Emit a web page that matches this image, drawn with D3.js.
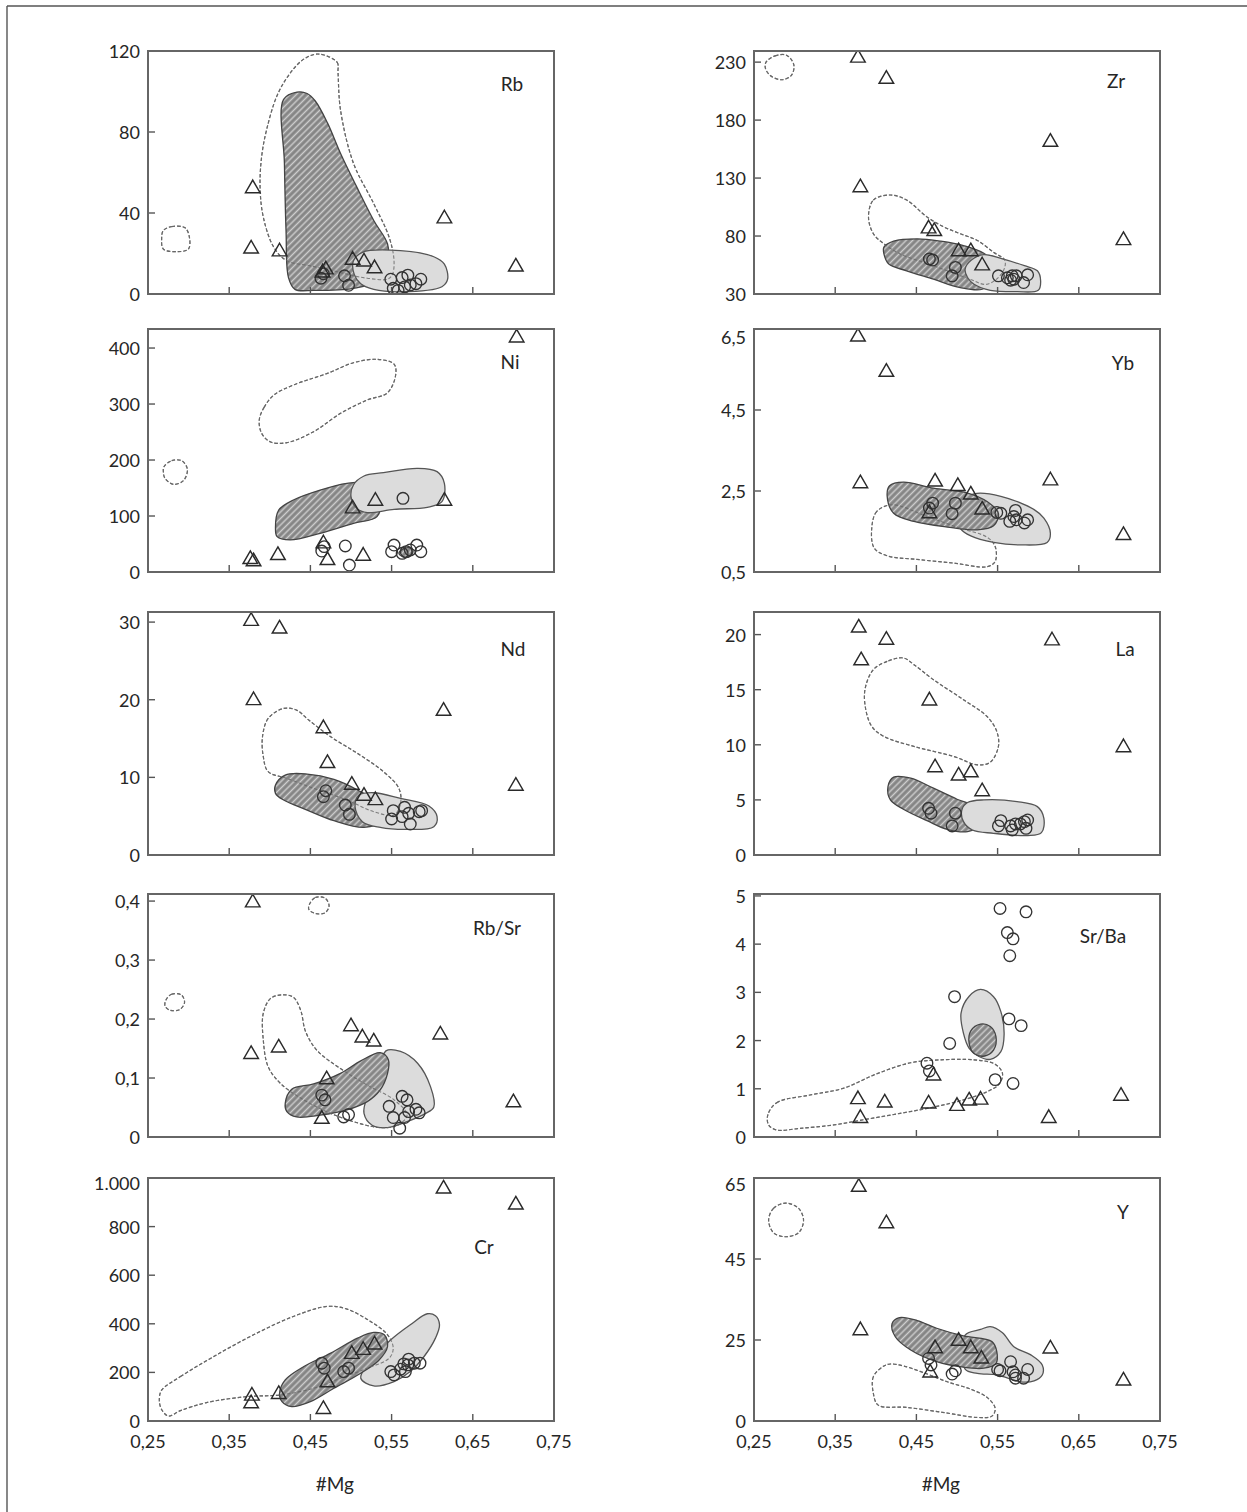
<!DOCTYPE html>
<html><head><meta charset="utf-8">
<script src="https://cdn.jsdelivr.net/npm/d3@7"></script>
<style>
body{margin:0;background:#fff}
svg{display:block}
text{font-family:Lato,'Open Sans',sans-serif;fill:#262626}
</style>
</head><body>
<svg id="chart" width="1247" height="1512"></svg>
<script>
// ---------- shared x axis ----------
const xTickValues = [0.25,0.35,0.45,0.55,0.65,0.75];
const xTickLabels = ["0,25","0,35","0,45","0,55","0,65","0,75"];
const xTitle = "#Mg";

// ---------- Rb ----------
const rbTicks = [0,40,80,120];
const rbTickLabels = ["0","40","80","120"];
const rbTri = [[0.379,52.6],[0.377,22.8],[0.412,21.4],[0.465,11.0],[0.469,12.5],[0.502,17.3],[0.516,16.4],[0.529,13.1],[0.615,37.7],[0.703,13.9]];
const rbCirc = [[0.463,7.8],[0.466,10.0],[0.492,9.0],[0.497,4.3],[0.549,7.3],[0.552,2.8],[0.558,1.8],[0.563,8.1],[0.566,3.5],[0.570,9.3],[0.573,4.5],[0.580,5.1],[0.586,7.3]];
const rbHatch = [[[0.4335,99.7],[0.446,99.0],[0.456,95.3],[0.471,84.5],[0.487,69.5],[0.507,52.9],[0.528,36.3],[0.545,24.7],[0.545,16.4],[0.532,6.5],[0.503,2.8],[0.454,1.8],[0.431,2.3],[0.423,8.1],[0.420,31.3],[0.418,64.6],[0.417,96.1]]];
const rbGray = [[[0.503,16.4],[0.514,20.6],[0.561,21.4],[0.602,18.4],[0.615,14.7],[0.619,7.3],[0.612,3.6],[0.561,1.1],[0.528,2.3],[0.512,5.1],[0.504,9.7]]];
const rbDash = [
  [[0.460,118.5],[0.483,114.4],[0.484,109.4],[0.487,91.1],[0.503,64.6],[0.528,44.6],[0.547,28.0],[0.553,16.4],[0.551,9.7],[0.545,7.3],[0.520,7.8],[0.503,9.0],[0.479,11.4],[0.450,13.9],[0.421,16.4],[0.405,23.0],[0.392,38.0],[0.388,52.9],[0.390,68.0],[0.396,81.0],[0.409,98.0],[0.425,109.0],[0.442,116.0]],
  [[0.2689,31.35],[0.2792,33.3],[0.2956,32.7],[0.301,28.0],[0.2998,22.2],[0.2854,20.9],[0.2689,22.2],[0.2668,27.2]]
];

// ---------- Zr ----------
const zrTicks = [30,80,130,180,230];
const zrTickLabels = ["30","80","130","180","230"];
const zrTri = [[0.378,234.5],[0.413,216.2],[0.381,122.7],[0.615,161.9],[0.705,77.1],[0.465,87.2],[0.472,84.9],[0.502,67.5],[0.517,67.5],[0.531,55.3]];
const zrCirc = [[0.466,60.2],[0.470,59.3],[0.498,52.9],[0.494,45.7],[0.551,45.7],[0.568,45.7],[0.570,42.8],[0.566,41.9],[0.573,45.7],[0.582,39.9],[0.587,46.6],[0.562,44.0]];
const zrHatch = [[[0.410,70.4],[0.422,75.6],[0.451,77.6],[0.480,75.6],[0.508,71.8],[0.533,65.1],[0.545,55.8],[0.545,42.8],[0.531,34.1],[0.504,35.5],[0.471,42.8],[0.438,50.0],[0.416,55.8],[0.410,64.6]]];
const zrGray = [[[0.510,51.5],[0.517,58.8],[0.533,64.0],[0.556,60.2],[0.583,54.4],[0.599,50.0],[0.603,41.3],[0.600,33.2],[0.574,32.0],[0.541,33.2],[0.521,38.4],[0.513,44.2]]];
const zrDash = [
  [[0.391,96.5],[0.397,111.0],[0.418,115.4],[0.438,111.0],[0.463,96.5],[0.484,87.8],[0.504,82.0],[0.525,76.2],[0.545,66.0],[0.559,58.8],[0.556,48.6],[0.537,38.4],[0.513,43.6],[0.471,54.4],[0.430,64.6],[0.410,73.3],[0.397,82.0]],
  [[0.265,230.2],[0.276,235.4],[0.290,236.0],[0.299,227.8],[0.296,218.5],[0.284,214.8],[0.270,218.5],[0.264,224.9]]
];

// ---------- Ni ----------
const niTicks = [0,100,200,300,400];
const niTickLabels = ["0","100","200","300","400"];
const niTri = [[0.704,420.2],[0.376,24.4],[0.380,20.3],[0.410,31.6],[0.466,52.4],[0.471,22.6],[0.502,114.9],[0.530,128.6],[0.615,128.6],[0.515,30.4]];
const niCirc = [[0.467,45.3],[0.464,37.5],[0.493,46.5],[0.498,12.5],[0.564,131.6],[0.553,48.2],[0.550,36.3],[0.563,33.4],[0.568,36.3],[0.573,39.3],[0.581,48.2],[0.586,36.3]];
const niHatch = [
  [[0.407,78.0],[0.411,110.7],[0.429,128.6],[0.462,146.4],[0.495,158.4],[0.520,158.4],[0.536,128.6],[0.532,98.8],[0.503,86.9],[0.462,69.1],[0.425,57.2],[0.409,63.1]],
  [[0.559,33.4],[0.5631,40.5],[0.5714,43.5],[0.5763,39.3],[0.5743,29.8],[0.566,26.2]]
];
const niGray = [[[0.500,134.5],[0.503,155.4],[0.516,171.4],[0.540,177.4],[0.582,185.1],[0.606,179.2],[0.615,158.4],[0.612,125.6],[0.594,115.5],[0.553,111.9],[0.520,106.0],[0.507,113.7]]];
const niDash = [
  [[0.387,271.4],[0.393,294.1],[0.405,316.1],[0.429,333.9],[0.471,354.8],[0.503,373.8],[0.532,379.8],[0.553,371.4],[0.555,351.8],[0.545,320.2],[0.520,307.2],[0.487,283.3],[0.454,250.6],[0.421,231.0],[0.401,232.2],[0.390,247.6]],
  [[0.2697,188.1],[0.2792,198.8],[0.2915,198.8],[0.2985,183.4],[0.2936,163.1],[0.2812,156.6],[0.2709,167.3],[0.2689,179.2]]
];

// ---------- Yb ----------
const ybTicks = [0.5,2.5,4.5,6.5];
const ybTickLabels = ["0,5","2,5","4,5","6,5"];
const ybTri = [[0.378,6.33],[0.413,5.46],[0.381,2.71],[0.473,2.75],[0.501,2.64],[0.517,2.43],[0.531,2.06],[0.466,1.97],[0.615,2.78],[0.705,1.43]];
const ybCirc = [[0.470,2.20],[0.466,2.08],[0.498,2.20],[0.494,1.94],[0.549,1.97],[0.554,1.95],[0.565,1.75],[0.570,1.87],[0.572,2.02],[0.573,1.79],[0.583,1.71],[0.587,1.79]];
const ybHatch = [[[0.414,2.37],[0.417,2.63],[0.434,2.72],[0.471,2.57],[0.513,2.45],[0.537,2.24],[0.551,1.95],[0.545,1.64],[0.525,1.54],[0.488,1.61],[0.447,1.75],[0.422,1.95]]];
const ybGray = [[[0.504,1.58],[0.496,2.12],[0.521,2.43],[0.554,2.37],[0.595,2.04],[0.607,1.83],[0.615,1.46],[0.611,1.23],[0.578,1.17],[0.545,1.23],[0.517,1.39]]];
const ybDash = [[[0.420,2.16],[0.401,1.99],[0.395,1.58],[0.398,1.09],[0.414,0.90],[0.451,0.81],[0.496,0.72],[0.537,0.63],[0.547,0.76],[0.547,1.13],[0.537,1.36],[0.504,1.58],[0.463,1.87]]];

// ---------- Nd ----------
const ndTicks = [0,10,20,30];
const ndTickLabels = ["0","10","20","30"];
const ndTri = [[0.377,30.25],[0.412,29.26],[0.380,20.04],[0.466,16.43],[0.471,11.93],[0.501,9.14],[0.516,7.72],[0.530,7.16],[0.614,18.66],[0.703,9.01]];
const ndCirc = [[0.469,8.28],[0.466,7.51],[0.493,6.44],[0.498,5.24],[0.552,5.71],[0.550,4.64],[0.563,4.94],[0.566,6.14],[0.571,5.37],[0.573,3.99],[0.584,5.58],[0.587,5.71]];
const ndHatch = [[[0.407,9.01],[0.419,10.30],[0.446,10.43],[0.479,9.74],[0.508,8.37],[0.532,6.65],[0.536,4.29],[0.516,3.56],[0.479,4.42],[0.446,5.79],[0.417,7.08],[0.407,7.94]]];
const ndGray = [[[0.505,6.22],[0.510,7.72],[0.528,8.02],[0.561,7.29],[0.596,6.31],[0.606,4.94],[0.602,3.65],[0.569,3.30],[0.536,3.56],[0.514,4.29]]];
const ndDash = [[[0.417,18.88],[0.398,17.59],[0.391,15.23],[0.392,12.66],[0.398,10.73],[0.421,9.87],[0.454,8.58],[0.495,7.08],[0.528,5.58],[0.553,5.15],[0.561,6.65],[0.559,8.58],[0.540,10.73],[0.508,13.09],[0.475,15.23],[0.448,17.38],[0.433,18.66]]];

// ---------- La ----------
const laTicks = [0,5,10,15,20];
const laTickLabels = ["0","5","10","15","20"];
const laTri = [[0.379,20.70],[0.413,19.60],[0.382,17.73],[0.466,14.09],[0.473,8.03],[0.502,7.27],[0.517,7.57],[0.531,5.85],[0.617,19.54],[0.705,9.85]];
const laCirc = [[0.465,4.24],[0.468,3.79],[0.498,3.79],[0.494,2.64],[0.551,2.64],[0.554,3.12],[0.566,2.64],[0.568,2.27],[0.572,2.82],[0.578,2.82],[0.583,3.03],[0.587,3.18],[0.585,2.42]];
const laHatch = [[[0.415,6.21],[0.422,7.06],[0.443,6.97],[0.471,6.06],[0.500,5.06],[0.521,4.39],[0.525,2.58],[0.513,2.12],[0.488,2.33],[0.463,3.12],[0.434,4.15],[0.418,5.00]]];
const laGray = [[[0.506,4.09],[0.513,4.76],[0.533,5.00],[0.574,4.85],[0.599,4.39],[0.607,3.33],[0.604,2.03],[0.587,1.76],[0.545,1.97],[0.519,2.27],[0.508,3.03]]];
const laDash = [[[0.434,17.88],[0.414,17.57],[0.397,16.82],[0.387,15.15],[0.387,13.48],[0.395,11.67],[0.410,10.76],[0.447,9.85],[0.496,8.94],[0.525,8.18],[0.541,8.42],[0.551,9.85],[0.549,11.21],[0.537,12.57],[0.508,14.09],[0.471,15.91],[0.447,17.27]]];

// ---------- Rb/Sr ----------
const rbsrTicks = [0,0.1,0.2,0.3,0.4];
const rbsrTickLabels = ["0","0,1","0,2","0,3","0,4"];
const rbsrTri = [[0.379,0.399],[0.377,0.142],[0.411,0.153],[0.470,0.099],[0.464,0.032],[0.500,0.189],[0.514,0.170],[0.528,0.163],[0.610,0.175],[0.700,0.060]];
const rbsrCirc = [[0.464,0.071],[0.468,0.063],[0.491,0.034],[0.497,0.038],[0.547,0.052],[0.552,0.033],[0.560,0.015],[0.563,0.069],[0.569,0.063],[0.566,0.033],[0.580,0.047],[0.584,0.041],[0.571,0.043]];
const rbsrHatch = [[[0.419,0.057],[0.427,0.081],[0.454,0.090],[0.487,0.108],[0.512,0.129],[0.536,0.143],[0.546,0.131],[0.545,0.108],[0.536,0.080],[0.520,0.060],[0.495,0.046],[0.462,0.037],[0.433,0.034],[0.421,0.043]]];
const rbsrGray = [[[0.543,0.146],[0.561,0.145],[0.582,0.125],[0.598,0.085],[0.602,0.051],[0.592,0.040],[0.569,0.026],[0.545,0.016],[0.526,0.020],[0.516,0.040],[0.520,0.068],[0.532,0.097]]];
const rbsrDash = [
  [[0.415,0.241],[0.401,0.235],[0.392,0.210],[0.392,0.164],[0.398,0.119],[0.413,0.091],[0.438,0.066],[0.470,0.043],[0.503,0.026],[0.536,0.016],[0.557,0.020],[0.569,0.037],[0.553,0.063],[0.520,0.088],[0.487,0.116],[0.458,0.147],[0.444,0.179],[0.438,0.215],[0.429,0.237]],
  [[0.272,0.232],[0.279,0.242],[0.291,0.241],[0.295,0.228],[0.289,0.216],[0.277,0.215],[0.271,0.222]],
  [[0.449,0.395],[0.456,0.406],[0.468,0.405],[0.473,0.392],[0.468,0.380],[0.456,0.379],[0.448,0.386]]
];

// ---------- Sr/Ba ----------
const srbaTicks = [0,1,2,3,4,5];
const srbaTickLabels = ["0","1","2","3","4","5"];
const srbaTri = [[0.378,0.80],[0.381,0.41],[0.411,0.73],[0.465,0.71],[0.471,1.29],[0.500,0.66],[0.515,0.77],[0.529,0.79],[0.613,0.41],[0.702,0.87]];
const srbaCirc = [[0.553,4.74],[0.585,4.67],[0.562,4.24],[0.569,4.11],[0.565,3.76],[0.497,2.91],[0.564,2.45],[0.579,2.31],[0.491,1.94],[0.463,1.53],[0.466,1.37],[0.547,1.19],[0.569,1.11]];
const srbaHatch = [[[0.529,2.34],[0.517,2.20],[0.515,1.94],[0.521,1.73],[0.534,1.68],[0.545,1.80],[0.548,2.08],[0.541,2.29]]];
const srbaGray = [[[0.529,3.06],[0.515,2.92],[0.505,2.57],[0.508,2.15],[0.515,1.84],[0.527,1.67],[0.541,1.61],[0.554,1.77],[0.558,2.12],[0.554,2.60],[0.545,2.91]]];
const srbaDash = [[[0.267,0.457],[0.278,0.712],[0.319,0.871],[0.360,1.01],[0.401,1.31],[0.443,1.54],[0.480,1.60],[0.521,1.60],[0.547,1.51],[0.556,1.32],[0.552,1.10],[0.537,0.94],[0.508,0.77],[0.471,0.62],[0.430,0.49],[0.389,0.37],[0.348,0.25],[0.307,0.18],[0.278,0.145],[0.268,0.25]]];

// ---------- Cr ----------
const crTicks = [0,200,400,600,800,1000];
const crTickLabels = ["0","200","400","600","800","1.000"];
const crTri = [[0.614,959.6],[0.703,893.6],[0.378,107.3],[0.377,75.7],[0.411,114.2],[0.471,162.3],[0.466,52.4],[0.501,279.1],[0.515,295.6],[0.529,317.6]];
const crCirc = [[0.464,237.9],[0.467,217.3],[0.491,203.5],[0.497,217.3],[0.549,203.5],[0.553,189.8],[0.561,213.1],[0.567,203.5],[0.565,235.1],[0.571,254.4],[0.570,231.0],[0.578,237.9],[0.585,237.9]];
const crHatch = [[[0.412,114.2],[0.419,169.2],[0.442,224.2],[0.475,279.1],[0.508,341.0],[0.528,364.4],[0.541,354.7],[0.545,306.6],[0.534,248.9],[0.512,196.6],[0.479,134.8],[0.450,79.8],[0.427,59.2],[0.415,79.8]]];
const crGray = [[[0.512,176.0],[0.520,231.0],[0.549,334.1],[0.573,396.0],[0.594,441.3],[0.604,433.1],[0.609,396.0],[0.604,341.0],[0.590,265.4],[0.573,203.5],[0.553,162.3],[0.528,144.4]]];
const crDash = [[[0.267,127.9],[0.290,182.9],[0.331,265.4],[0.380,354.7],[0.429,430.3],[0.471,471.6],[0.495,460.6],[0.524,409.7],[0.545,354.7],[0.552,299.8],[0.547,258.5],[0.520,217.3],[0.487,176.0],[0.454,134.8],[0.413,107.3],[0.372,100.4],[0.322,75.7],[0.290,42.7],[0.275,20.7],[0.266,52.4],[0.264,93.6]]];

// ---------- Y ----------
const yTicks = [0,25,45,65];
const yTickLabels = ["0","25","45","65"];
const yTri = [[0.379,63.0],[0.413,54.0],[0.381,27.6],[0.473,22.7],[0.467,15.2],[0.502,25.0],[0.517,22.7],[0.530,19.5],[0.615,22.6],[0.705,12.7]];
const yCirc = [[0.465,19.3],[0.468,17.3],[0.494,14.5],[0.498,15.5],[0.550,15.9],[0.553,15.5],[0.566,18.3],[0.569,15.2],[0.572,14.2],[0.572,13.2],[0.582,13.2],[0.587,15.9]];
const yHatch = [[[0.420,29.0],[0.429,30.5],[0.451,29.8],[0.475,27.9],[0.508,26.0],[0.543,24.5],[0.549,21.4],[0.548,17.8],[0.533,16.3],[0.508,16.6],[0.475,18.3],[0.443,21.9],[0.424,25.8]]];
const yGray = [[[0.510,26.2],[0.529,27.6],[0.541,28.3],[0.556,26.8],[0.570,22.9],[0.591,20.4],[0.605,17.3],[0.605,14.2],[0.595,12.4],[0.578,12.1],[0.550,14.2],[0.525,14.7],[0.510,16.0]]];
const yDash = [
  [[0.410,17.0],[0.397,13.7],[0.397,8.5],[0.403,4.9],[0.438,4.2],[0.484,2.6],[0.525,1.1],[0.543,1.5],[0.547,3.9],[0.537,7.3],[0.517,9.8],[0.488,12.1],[0.459,14.9],[0.434,17.0],[0.418,17.6]],
  [[0.268,54.6],[0.274,57.5],[0.289,58.8],[0.305,57.5],[0.311,54.6],[0.305,51.5],[0.289,50.5],[0.274,51.5]]
];

// ---------- layout (positions/styles) ----------
const PW = 406, PH = 243;
const colX = [148, 754];
const rowY = [51, 329, 612, 894, 1178];

const panels = [
  {name:"Rb",    col:0,row:0, ticks:rbTicks,  labels:rbTickLabels,  top:120,   tri:rbTri,  circ:rbCirc,  hatch:rbHatch,  gray:rbGray,  dash:rbDash,  grayOnTop:true,  lab:[364,32]},
  {name:"Zr",    col:1,row:0, ticks:zrTicks,  labels:zrTickLabels,  top:239.6, tri:zrTri,  circ:zrCirc,  hatch:zrHatch,  gray:zrGray,  dash:zrDash,  grayOnTop:true,  lab:[362,29]},
  {name:"Ni",    col:0,row:1, ticks:niTicks,  labels:niTickLabels,  top:434,   tri:niTri,  circ:niCirc,  hatch:niHatch,  gray:niGray,  dash:niDash,  grayOnTop:true,  lab:[362,32]},
  {name:"Yb",    col:1,row:1, ticks:ybTicks,  labels:ybTickLabels,  top:6.5,   tri:ybTri,  circ:ybCirc,  hatch:ybHatch,  gray:ybGray,  dash:ybDash,  grayOnTop:false, lab:[369,33], topDy:8},
  {name:"Nd",    col:0,row:2, ticks:ndTicks,  labels:ndTickLabels,  top:31.3,  tri:ndTri,  circ:ndCirc,  hatch:ndHatch,  gray:ndGray,  dash:ndDash,  grayOnTop:true,  lab:[365,36]},
  {name:"La",    col:1,row:2, ticks:laTicks,  labels:laTickLabels,  top:22.05, tri:laTri,  circ:laCirc,  hatch:laHatch,  gray:laGray,  dash:laDash,  grayOnTop:true,  lab:[371,36]},
  {name:"Rb/Sr", col:0,row:3, ticks:rbsrTicks,labels:rbsrTickLabels,top:0.412, tri:rbsrTri,circ:rbsrCirc,hatch:rbsrHatch,gray:rbsrGray,dash:rbsrDash,grayOnTop:false, lab:[349,33]},
  {name:"Sr/Ba", col:1,row:3, ticks:srbaTicks,labels:srbaTickLabels,top:5.04,  tri:srbaTri,circ:srbaCirc,hatch:srbaHatch,gray:srbaGray,dash:srbaDash,grayOnTop:false, lab:[349,41]},
  {name:"Cr",    col:0,row:4, ticks:crTicks,  labels:crTickLabels,  top:1000,  tri:crTri,  circ:crCirc,  hatch:crHatch,  gray:crGray,  dash:crDash,  grayOnTop:false, lab:[336,68], topDy:5},
  {name:"Y",     col:1,row:4, ticks:yTicks,   labels:yTickLabels,   top:null,  tri:yTri,   circ:yCirc,   hatch:yHatch,   gray:yGray,   dash:yDash,   grayOnTop:false, lab:[369,33], topDy:6}
];

const svg = d3.select("#chart");

// outer frame (top and left edges)
svg.append("line").attr("x1",7).attr("y1",6).attr("x2",1247).attr("y2",6).attr("stroke","#555").attr("stroke-width",1.4);
svg.append("line").attr("x1",7).attr("y1",6).attr("x2",7).attr("y2",1512).attr("stroke","#555").attr("stroke-width",1.4);

// hatch pattern
const defs = svg.append("defs");
const pat = defs.append("pattern").attr("id","hatch").attr("patternUnits","userSpaceOnUse")
  .attr("width",4.6).attr("height",4.6).attr("patternTransform","rotate(45)");
pat.append("rect").attr("width",4.6).attr("height",4.6).attr("fill","#858585");
pat.append("line").attr("x1",2.3).attr("y1",-1).attr("x2",2.3).attr("y2",6).attr("stroke","#cdcdcd").attr("stroke-width",1.5);

const x = d3.scaleLinear().domain([0.25,0.75]).range([0,PW]);

panels.forEach((p,i) => {
  const g = svg.append("g").attr("transform",`translate(${colX[p.col]},${rowY[p.row]})`);
  let y;
  if (p.top === null) {
    y = d3.scaleLinear().domain(p.ticks).range(p.ticks.map((d,k)=> PH - k*PH/(p.ticks.length-1)));
  } else {
    y = d3.scaleLinear().domain([p.ticks[0], p.top]).range([PH,0]);
  }
  const clipId = "clip"+i;
  defs.append("clipPath").attr("id",clipId).append("rect").attr("width",PW).attr("height",PH);
  const area = g.append("g").attr("clip-path",`url(#${clipId})`);
  const line = d3.line().x(d=>x(d[0])).y(d=>y(d[1])).curve(d3.curveCatmullRomClosed.alpha(0.5));

  // dashed fields
  area.selectAll("path.dash").data(p.dash).join("path").attr("class","dash")
    .attr("d",line).attr("fill","none").attr("stroke","#6a6a6a").attr("stroke-width",1.2)
    .attr("stroke-dasharray","3.5,2");

  const drawGray = () => area.append("g").selectAll("path").data(p.gray).join("path")
    .attr("d",line).attr("fill","#dcdcdc").attr("stroke","#555").attr("stroke-width",1.3);
  const drawHatch = () => area.append("g").selectAll("path").data(p.hatch).join("path")
    .attr("d",line).attr("fill","url(#hatch)").attr("stroke","#444").attr("stroke-width",1.3);
  if (p.grayOnTop) { drawHatch(); drawGray(); } else { drawGray(); drawHatch(); }

  // the dashed outline remains visible over fills
  area.selectAll("path.dash2").data(p.dash).join("path").attr("class","dash2")
    .attr("d",line).attr("fill","none").attr("stroke","#666").attr("stroke-width",1.1)
    .attr("stroke-dasharray","3.5,2").attr("opacity",0.8);

  // markers
  area.append("g").selectAll("circle").data(p.circ).join("circle")
    .attr("cx",d=>x(d[0])).attr("cy",d=>y(d[1])).attr("r",5.8)
    .attr("fill","none").attr("stroke","#333").attr("stroke-width",1.35);
  const tri = d3.symbol(d3.symbolTriangle, 92);
  area.append("g").selectAll("path").data(p.tri).join("path")
    .attr("transform",d=>`translate(${x(d[0])},${y(d[1])+1})`).attr("d",tri)
    .attr("fill","none").attr("stroke","#2a2a2a").attr("stroke-width",1.45).attr("stroke-linejoin","miter");

  // inward ticks
  const inner = xTickValues.slice(1,-1);
  g.append("g").selectAll("line").data(inner).join("line")
    .attr("x1",d=>x(d)).attr("x2",d=>x(d)).attr("y1",PH).attr("y2",PH-7)
    .attr("stroke","#555").attr("stroke-width",1.4);
  g.append("g").selectAll("line").data(p.ticks).join("line")
    .attr("x1",0).attr("x2",7).attr("y1",d=>y(d)).attr("y2",d=>y(d))
    .attr("stroke","#555").attr("stroke-width",1.4);

  // frame
  g.append("rect").attr("width",PW).attr("height",PH).attr("fill","none")
    .attr("stroke","#666").attr("stroke-width",2);

  // y tick labels
  g.append("g").selectAll("text").data(p.ticks).join("text")
    .attr("x",-8).attr("y",(d,k)=> y(d) + ((k===p.ticks.length-1 && p.topDy)? p.topDy : 0))
    .attr("text-anchor","end").attr("dominant-baseline","central")
    .attr("font-size",18).text((d,k)=>p.labels[k]);

  // panel label
  g.append("text").attr("x",p.lab[0]).attr("y",p.lab[1]).attr("text-anchor","middle")
    .attr("dominant-baseline","central").attr("font-size",19).text(p.name);

  // bottom row: x tick labels and title
  if (p.row === 4) {
    g.append("g").selectAll("text").data(xTickValues).join("text")
      .attr("x",d=>x(d)).attr("y",PH+20).attr("text-anchor","middle")
      .attr("dominant-baseline","central").attr("font-size",18)
      .text((d,k)=>xTickLabels[k]);
    g.append("text").attr("x",x(0.48)).attr("y",PH+62).attr("text-anchor","middle")
      .attr("dominant-baseline","central").attr("font-size",19).text(xTitle);
  }
});
</script>
</body></html>
